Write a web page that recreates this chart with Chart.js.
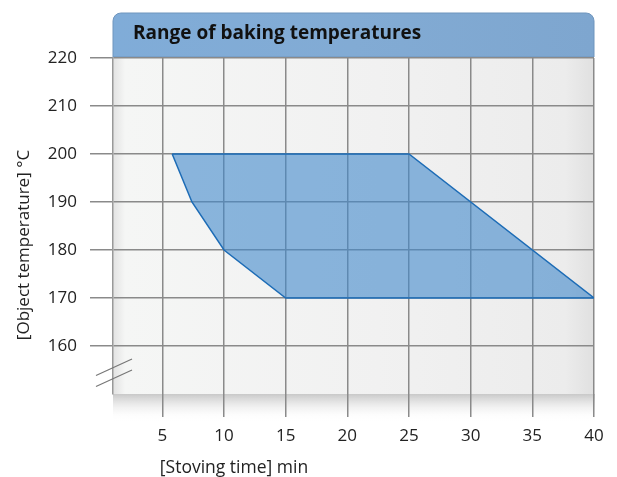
<!DOCTYPE html>
<html>
<head>
<meta charset="utf-8">
<script src="https://cdn.jsdelivr.net/npm/chart.js@4"></script>
<style>
  body { margin: 0; background: #fff; }
  canvas { display: block; }
</style>
</head>
<body>
<canvas id="myChart" width="617" height="477"></canvas>
<script>
// polygon outline of the baking window (time in min, temperature in °C)
const stovingTime = [5.8, 7.4, 10, 15, 40, 25, 5.8];
const objectTemp = [200, 190, 180, 170, 170, 200, 200];

const xTicks = [5, 10, 15, 20, 25, 30, 35, 40];
const yTicks = [160, 170, 180, 190, 200, 210, 220];

const chartTitle = "Range of baking temperatures";
const xTitle = "[Stoving time] min";
const yTitle = "[Object temperature] °C";

const fontName = "'Open Sans', 'Noto Sans', sans-serif";
const gridColor = "#8a8a8a";

const points = stovingTime.map((t, i) => ({ x: t, y: objectTemp[i] }));

// panel background, header and the grey band below the plot
const panelPlugin = {
  id: "panel",
  beforeDraw: function (chart) {
    const ctx = chart.ctx;
    const a = chart.chartArea;
    ctx.save();

    // plot background
    let g = ctx.createLinearGradient(a.left, 0, a.right, 0);
    g.addColorStop(0, "#e2e2e2");
    g.addColorStop(0.025, "#f5f6f5");
    g.addColorStop(0.55, "#f1f1f1");
    g.addColorStop(0.94, "#ececec");
    g.addColorStop(1, "#e0e0e0");
    ctx.fillStyle = g;
    ctx.fillRect(a.left, a.top, a.right - a.left, a.bottom - a.top);

    // band under the plot
    g = ctx.createLinearGradient(0, a.bottom, 0, a.bottom + 27);
    g.addColorStop(0, "#c8c8c8");
    g.addColorStop(1, "rgba(255,255,255,0)");
    ctx.fillStyle = g;
    ctx.fillRect(a.left, a.bottom, a.right - a.left + 1, 27);

    // header with rounded top corners
    const top = 13, r = 8;
    const bottom = a.top - 1;
    ctx.beginPath();
    ctx.moveTo(a.left, bottom);
    ctx.lineTo(a.left, top + r);
    ctx.arcTo(a.left, top, a.left + r, top, r);
    ctx.lineTo(a.right - r, top);
    ctx.arcTo(a.right, top, a.right, top + r, r);
    ctx.lineTo(a.right, bottom);
    ctx.closePath();
    g = ctx.createLinearGradient(a.left, 0, a.right, 0);
    g.addColorStop(0, "#80acd8");
    g.addColorStop(0.5, "#82abd4");
    g.addColorStop(1, "#7ea6cf");
    ctx.fillStyle = g;
    ctx.fill();
    ctx.strokeStyle = "#6f95bd";
    ctx.lineWidth = 1;
    ctx.stroke();

    ctx.fillStyle = "#111";
    ctx.font = "bold 19px " + fontName;
    ctx.textBaseline = "middle";
    ctx.textAlign = "left";
    ctx.fillText(chartTitle, a.left + 20, 34);
    ctx.restore();
  },
  afterDraw: function (chart) {
    const ctx = chart.ctx;
    ctx.save();

    // axis break marks
    ctx.strokeStyle = "#777";
    ctx.lineWidth = 1.2;
    ctx.beginPath();
    ctx.moveTo(96, 375.5);
    ctx.lineTo(132, 359);
    ctx.moveTo(96, 386.5);
    ctx.lineTo(132, 370);
    ctx.stroke();

    // axis titles
    ctx.fillStyle = "#222";
    ctx.font = "17.5px " + fontName;
    ctx.textAlign = "center";
    ctx.textBaseline = "middle";
    ctx.fillText(xTitle, 234, 468);
    ctx.font = "17px " + fontName;
    ctx.translate(24, 245);
    ctx.rotate(-Math.PI / 2);
    ctx.fillText(yTitle, 0, 0);
    ctx.restore();
  },
};

new Chart(document.getElementById("myChart"), {
  type: "scatter",
  data: {
    datasets: [
      {
        data: points,
        showLine: true,
        fill: "shape",
        backgroundColor: "rgba(65,136,203,0.6)",
        borderColor: "#1d6cb6",
        borderWidth: 1.5,
        pointRadius: 0,
        tension: 0,
      },
    ],
  },
  options: {
    responsive: false,
    animation: false,
    layout: { padding: { top: 58, right: 23, left: 0, bottom: 0 } },
    plugins: {
      legend: { display: false },
      tooltip: { enabled: false },
    },
    scales: {
      x: {
        type: "linear",
        min: 1,
        max: 40,
        afterBuildTicks: function (scale) {
          scale.ticks = xTicks.map((v) => ({ value: v }));
        },
        afterFit: function (scale) {
          scale.height = 83;
        },
        grid: {
          color: gridColor,
          lineWidth: 1.5,
          tickLength: 23,
          tickColor: gridColor,
        },
        border: { display: false },
        ticks: {
          padding: 9,
          color: "#222",
          font: { family: fontName, size: 17 },
          maxRotation: 0,
        },
      },
      y: {
        type: "linear",
        min: 150,
        max: 220,
        afterBuildTicks: function (scale) {
          scale.ticks = yTicks.map((v) => ({ value: v }));
        },
        afterFit: function (scale) {
          scale.width = 113;
        },
        grid: {
          color: gridColor,
          lineWidth: 1.5,
          tickLength: 23,
          tickColor: gridColor,
        },
        border: { display: true, color: "#999", width: 1.5 },
        ticks: {
          padding: 13,
          color: "#222",
          font: { family: fontName, size: 17 },
        },
      },
    },
  },
  plugins: [panelPlugin],
});
</script>
</body>
</html>
